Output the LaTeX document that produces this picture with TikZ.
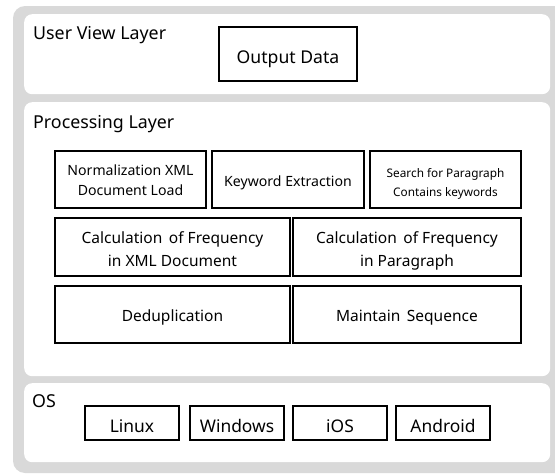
\documentclass[tikz,border=0pt]{standalone}
\usepackage{fontspec}
\setmainfont{Noto Sans}
\definecolor{frame}{HTML}{D9D9D9}
% invisible rules that fix the height above the first baseline
% and the depth below the last one
\newcommand\hstrut[1]{\rule{0pt}{#1}}
\newcommand\dstrut[1]{\rule[-#1]{0pt}{#1}}
\begin{document}
\begin{tikzpicture}[x=1pt,y=-1pt,
  panel/.style={fill=white, rounded corners=8pt, inner sep=0pt,
    minimum width=526pt, anchor=north west},
  layerlabel/.style={anchor=base west, inner sep=0pt, font=\fontsize{17.8}{20}\selectfont},
  blk/.style={draw=black, line width=1.8pt, fill=white, align=center, inner sep=0pt},
  outtext/.style={font=\fontsize{17.6}{22}\selectfont},
  ostext/.style={font=\fontsize{17.4}{22}\selectfont},
  bigtext/.style={font=\fontsize{15.5}{23}\selectfont},
  midtext/.style={font=\fontsize{14.1}{20}\selectfont},
  smalltext/.style={font=\fontsize{11.8}{19}\selectfont}]
\useasboundingbox (0,0) rectangle (555,474);
\clip (0,0) rectangle (555,474);

% grey frame behind the three layers
\fill[frame, rounded corners=12pt] (13,6) rectangle (575,473);

% layers
\node[panel, minimum height=80pt]  (user) at (24,14)  {};
\node[panel, minimum height=274pt] (proc) at (24,102) {};
\node[panel, minimum height=79pt]  (os)   at (24,383) {};

\node[layerlabel] (userlbl) at (33,39)  {User View Layer};
\node[layerlabel] (proclbl) at (33,128) {Processing Layer};
\node[layerlabel] (oslbl)   at (32,407) {OS};

% user view layer
\node[blk, outtext, minimum width=138pt, minimum height=54pt] (out) at (288,54)
  {\hstrut{23pt}\dstrut{5pt}Output Data};

% processing layer, first row
\node[blk, midtext, minimum width=151pt, minimum height=57pt] (norm) at (130.5,179.5)
  {\hstrut{16pt}Normalization XML\\Document Load\dstrut{5pt}};
\node[blk, midtext, minimum width=152pt, minimum height=57pt] (kw) at (288,179.5)
  {\hstrut{18pt}\dstrut{5pt}Keyword Extraction};
\node[blk, smalltext, minimum width=151pt, minimum height=57pt] (search) at (445.5,179.5)
  {\hstrut{19pt}Search for Paragraph\\Contains keywords\dstrut{5pt}};

% second row
\node[blk, bigtext, minimum width=235pt, minimum height=58pt] (freqdoc) at (172.5,247)
  {\hstrut{20pt}Calculation\, of Frequency\\in XML Document\dstrut{5pt}};
\node[blk, bigtext, minimum width=228pt, minimum height=58pt] (freqpar) at (407,247)
  {\hstrut{20pt}Calculation\, of Frequency\\in Paragraph\dstrut{5pt}};

% third row
\node[blk, bigtext, minimum width=235pt, minimum height=57pt] (dedup) at (172.5,314.5)
  {\hstrut{19pt}\dstrut{5pt}Deduplication};
\node[blk, bigtext, minimum width=228pt, minimum height=57pt] (seq) at (407,314.5)
  {\hstrut{19pt}\dstrut{5pt}Maintain\, Sequence};

% operating systems
\node[blk, ostext, minimum width=94pt, minimum height=34pt] (linux) at (132,423)
  {\hstrut{24pt}\dstrut{5pt}Linux};
\node[blk, ostext, minimum width=94pt, minimum height=34pt] (win) at (237,423)
  {\hstrut{24pt}\dstrut{5pt}Windows};
\node[blk, ostext, minimum width=94pt, minimum height=34pt] (ios) at (340,423)
  {\hstrut{24pt}\dstrut{5pt}iOS};
\node[blk, ostext, minimum width=94pt, minimum height=34pt] (android) at (443,423)
  {\hstrut{24pt}\dstrut{5pt}Android};
\end{tikzpicture}
\end{document}
